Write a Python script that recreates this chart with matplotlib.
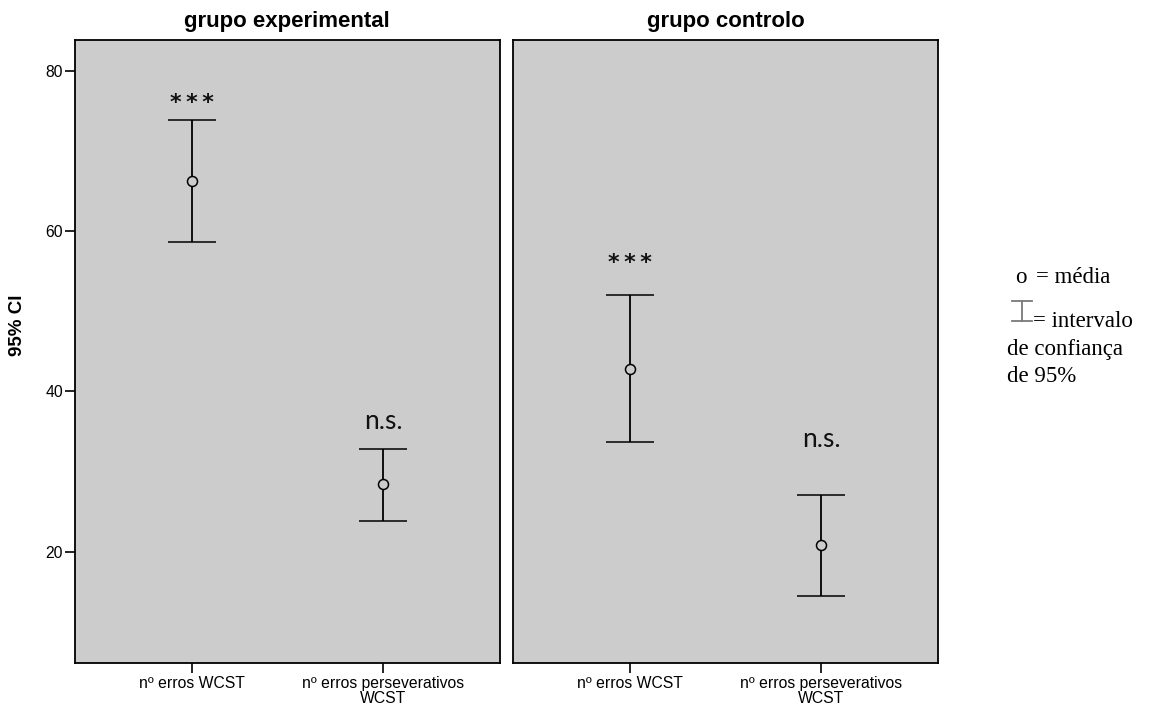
import numpy as np
import matplotlib
matplotlib.use('Agg')
import matplotlib.pyplot as plt
from matplotlib.lines import Line2D

# --- data ---
groups = ['grupo experimental', 'grupo controlo']
categories = ['nº erros WCST', 'nº erros perseverativos\nWCST']

means = [[66.2, 28.4], [42.8, 20.8]]
lower = [[58.6, 23.8], [33.7, 14.4]]
upper = [[73.8, 32.8], [52.0, 27.1]]

sig_labels = [['***', 'n.s.'], ['***', 'n.s.']]
sig_y = [[75.2, 35.3], [55.3, 33.0]]

yticks = [20, 40, 60, 80]

W, H = 1154, 708
fig = plt.figure(figsize=(W / 100, H / 100), dpi=100)

bg = '#cccccc'
# axes boxes in pixels: left, right
boxes = [(74.7, 500.0), (512.7, 938.3)]
top_px, bot_px = 40.0, 662.5

for i, (name, (l, r)) in enumerate(zip(groups, boxes)):
    ax = fig.add_axes([l / W, 1 - bot_px / H, (r - l) / W, (bot_px - top_px) / H])
    ax.set_facecolor(bg)
    x = np.arange(len(categories))
    m = np.array(means[i])
    lo = m - np.array(lower[i])
    hi = np.array(upper[i]) - m
    ax.errorbar(x, m, yerr=[lo, hi], fmt='o', color='black', ecolor='black',
                elinewidth=1.3, capsize=17.3, capthick=1.3,
                markersize=7.2, markerfacecolor=bg, markeredgecolor='black',
                markeredgewidth=1.1, zorder=3)
    for xi, lab, yv in zip(x, sig_labels[i], sig_y[i]):
        if lab == '***':
            # spaced-out asterisks like the original
            ax.text(xi, yv, '\u2009'.join(lab), ha='center', va='baseline',
                    fontsize=16, fontweight='bold', family='DejaVu Sans',
                    color='#111111')
        else:
            ax.text(xi, yv, lab, ha='center', va='baseline', fontsize=19,
                    family='Lato', color='#111111')
    ax.set_xlim(-0.61, 1.61)
    ax.set_ylim(6.15, 83.83)
    ax.set_xticks(x)
    ax.set_xticklabels(categories, fontsize=11.3, family='Liberation Sans',
                       linespacing=1.0, va='top')
    ax.tick_params(axis='x', length=7.5, width=1.2, pad=2)
    if i == 0:
        ax.set_yticks(yticks)
        ax.set_yticklabels([str(t) for t in yticks], fontsize=11.3,
                           family='Liberation Sans')
        ax.tick_params(axis='y', length=7.5, width=1.2, pad=1)
    else:
        ax.set_yticks([])
    for s in ax.spines.values():
        s.set_linewidth(1.3)
    ax.set_title(name, fontsize=16, fontweight='bold', family='Liberation Sans',
                 pad=9.5)

fig.text(18 / W, 1 - 325 / H, '95% CI', rotation=90, ha='center', va='center',
         fontsize=13.5, fontweight='bold', family='Liberation Sans')

# legend text on the right
serif = dict(family='Liberation Serif', fontsize=16.5, va='baseline')
fig.text(1015 / W, 1 - 283 / H, 'o', **serif)
fig.text(1036 / W, 1 - 283 / H, '= média', **serif)
fig.text(1033 / W, 1 - 327 / H, '= intervalo', **serif)
fig.text(1007 / W, 1 - 355 / H, 'de confiança', **serif)
fig.text(1007 / W, 1 - 382 / H, 'de 95%', **serif)

gray = '#7a7a7a'
for xs, ys in [([1012, 1032], [301, 301]), ([1012, 1032], [321, 321]),
               ([1022, 1022], [301, 321])]:
    fig.add_artist(Line2D([v / W for v in xs], [1 - v / H for v in ys],
                          color=gray, linewidth=1.3))

fig.savefig('out.png', dpi=100)
